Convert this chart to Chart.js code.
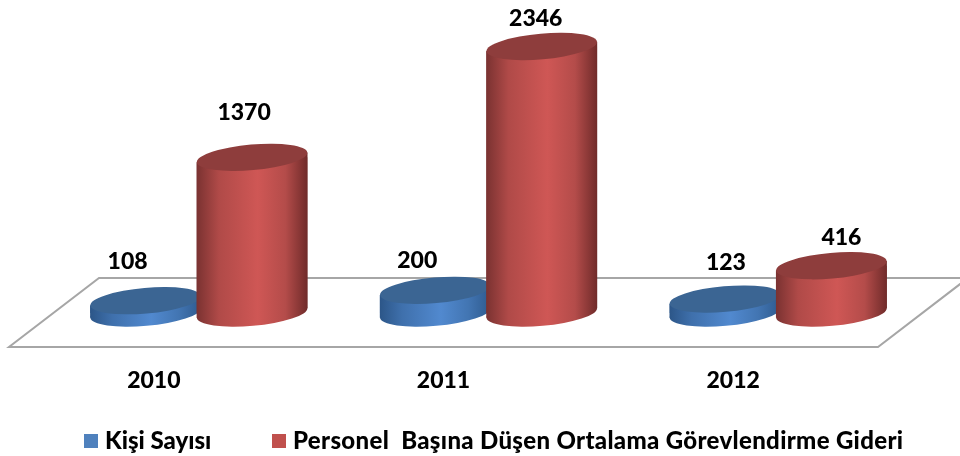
<!DOCTYPE html>
<html><head><meta charset="utf-8">
<style>html,body{margin:0;padding:0;background:#fff}canvas{display:block}</style>
<script src="https://cdn.jsdelivr.net/npm/chart.js@4"></script></head>
<body><canvas id="c" width="960" height="456"></canvas>
<script>
const categories = ['2010', '2011', '2012'];
const kisiSayisi = [108, 200, 123];
const gider = [1370, 2346, 416];
const seriesNames = ['Kişi Sayısı', 'Personel  Başına Düşen Ortalama Görevlendirme Gideri'];

const FAMILY = 'Lato, Carlito, sans-serif';
const FONT = '900 23px ' + FAMILY;
const LEGEND_FONT = '900 24px ' + FAMILY;
const styles = [
  {legend:'#4F81BD', top:'#3B6593', stops:['#2C5688','#3F70AC','#5189CF','#4275B2','#2E5A8E']},
  {legend:'#C0504D', top:'#8E3D3C', stops:['#7A3231','#B04A48','#CF5755','#B44C4A','#702B2A']}
];
// hand-placed label offsets from each cap centre, as in the reference
const labelNudge = [
  [[-18,-39],[-18,-30],[1,-36]],
  [[-8,-45],[-6,-28],[10,-28]]
];
const legendSlots = [{box:84,text:105,spacing:'0px'},{box:272,text:293,spacing:'0.33px'}];
const TILT = -5*Math.PI/180, CAP_RY = 12.8, DEPTH = 45;

const painter = {
  id:'cylinders',
  beforeDatasetDraw(){ return false; },
  beforeDatasetsDraw(chart){
    const {ctx,chartArea:a} = chart, y0 = chart.scales.y.getPixelForValue(0);
    ctx.save();
    ctx.strokeStyle='#A6A6A6'; ctx.lineWidth=2;
    ctx.beginPath();
    ctx.moveTo(a.left-DEPTH,y0+34); ctx.lineTo(a.right-DEPTH,y0+34);
    ctx.lineTo(a.right+DEPTH,y0-35); ctx.lineTo(a.left+DEPTH,y0-35);
    ctx.closePath(); ctx.stroke();
    ctx.restore();
  },
  afterDatasetsDraw(chart){
    const {ctx} = chart;
    chart.data.datasets.forEach((ds,i)=>paint(chart,chart.getDatasetMeta(i),styles[i]));
    // value labels
    ctx.save(); ctx.font=FONT; ctx.fillStyle='#000'; ctx.textAlign='center'; ctx.textBaseline='middle';
    chart.data.datasets.forEach((ds,i)=>{
      chart.getDatasetMeta(i).data.forEach((el,j)=>{
        const n=labelNudge[i][j];
        ctx.fillText(String(ds.data[j]),el.x+n[0],el.y+n[1]);
      });
    });
    // legend
    ctx.font=LEGEND_FONT;
    chart.data.datasets.forEach((ds,i)=>{
      const s=legendSlots[i];
      ctx.fillStyle=styles[i].legend; ctx.fillRect(s.box,434,14,14);
      ctx.fillStyle='#000'; ctx.textAlign='left';
      ctx.letterSpacing=s.spacing;
      ctx.fillText(ds.label,s.text,441);
    });
    ctx.letterSpacing='0px';
    ctx.restore();
  }
};
function paint(chart,meta,st){
  const {ctx}=chart;
  const rx=el=>el.width/2;
  const grad=el=>{
    const g=ctx.createLinearGradient(el.x-rx(el),0,el.x+rx(el),0);
    [0,.2,.55,.8,1].forEach((p,k)=>g.addColorStop(p,st.stops[k]));
    return g;
  };
  const d=el=>rx(el)*Math.sin(-TILT);
  meta.data.forEach(el=>{
    const r=rx(el), dd=d(el);
    el.options={...el.options,backgroundColor:grad(el)};
    ctx.fillStyle=el.options.backgroundColor;
    ctx.beginPath(); ctx.ellipse(el.x,el.base,r,CAP_RY,TILT,0,Math.PI*2); ctx.fill();
    ctx.beginPath();
    ctx.moveTo(el.x-r,el.y+dd); ctx.lineTo(el.x+r,el.y-dd);
    ctx.lineTo(el.x+r,el.base-dd); ctx.lineTo(el.x-r,el.base+dd); ctx.closePath(); ctx.fill();
  });
  ctx.save();
  ctx.beginPath();
  meta.data.forEach(el=>{
    const r=rx(el),dd=d(el);
    ctx.moveTo(el.x-r,el.y+dd); ctx.lineTo(el.x+r,el.y-dd);
    ctx.lineTo(el.x+r,el.base-dd); ctx.lineTo(el.x-r,el.base+dd); ctx.closePath();
  });
  ctx.clip();
  meta.controller.draw();
  ctx.restore();
  meta.data.forEach(el=>{
    ctx.fillStyle=st.top;
    ctx.beginPath(); ctx.ellipse(el.x,el.y,rx(el),CAP_RY,TILT,0,Math.PI*2); ctx.fill();
  });
}

new Chart(document.getElementById('c'),{
  type:'bar',
  data:{labels:categories,datasets:[
    {label:seriesNames[0],data:kisiSayisi,backgroundColor:styles[0].legend},
    {label:seriesNames[1],data:gider,backgroundColor:styles[1].legend}
  ]},
  plugins:[painter],
  options:{
    responsive:false,animation:false,
    categoryPercentage:.735,barPercentage:1.042,
    layout:{padding:{left:54,right:37,top:46.5,bottom:0}},
    plugins:{legend:{display:false},tooltip:{enabled:false}},
    scales:{
      x:{grid:{display:false,drawTicks:false},border:{display:false},
        afterFit(s){s.height=143;},
        ticks:{color:'#000',font:{family:FAMILY,size:23,weight:'900'},padding:54,labelOffset:-45,maxRotation:0,autoSkip:false}},
      y:{display:false,min:0,max:2346}
    }
  }
});
</script></body></html>
